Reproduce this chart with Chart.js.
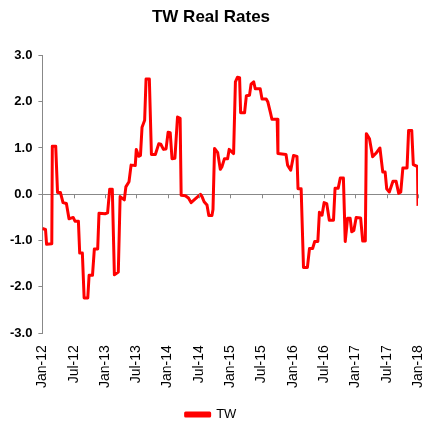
<!DOCTYPE html>
<html>
<head>
<meta charset="utf-8">
<script src="https://cdn.jsdelivr.net/npm/chart.js@4/dist/chart.umd.min.js"></script>
<style>
  html, body { margin: 0; padding: 0; background: #fff; }
  #wrap { width: 425px; height: 422px; position: relative; }
</style>
</head>
<body>
<div id="wrap"><canvas id="mainChart"></canvas></div>
<script>
// months since Jan-12, and the TW real rate at that point
const months = [0, 0.6, 0.8, 1.8, 1.9, 2.55, 2.9, 3.45, 3.95, 4.6, 5.1, 5.9, 6.25, 6.9, 7.15, 7.66, 8.0, 8.7, 8.95, 9.6,
  9.96, 10.6, 10.85, 12.0, 12.5, 12.9, 13.4, 13.8, 14.55, 14.9, 15.7, 16.0, 16.6, 17.0, 17.8, 18.0, 18.45, 18.8, 19.1, 19.6,
  19.87, 20.5, 20.9, 21.65, 22.3, 22.7, 23.2, 23.7, 24.1, 24.5, 24.85, 25.4, 25.9, 26.4, 26.6, 27.4, 28.0, 28.5, 29.3, 30.3,
  30.6, 31.0, 31.55, 31.9, 32.5, 32.7, 33.0, 33.6, 34.1, 34.4, 34.9, 35.5, 35.8, 36.65, 37.0, 37.4, 37.8, 38.0, 38.75, 39.1,
  39.7, 40.0, 40.5, 40.8, 41.75, 42.1, 42.9, 43.2, 43.7, 44.0, 45.0, 45.15, 46.7, 47.0, 47.6, 48.15, 48.8, 49.0, 49.6, 50.05,
  50.8, 51.2, 51.8, 52.2, 52.8, 53.1, 53.6, 54.0, 54.5, 55.0, 55.8, 56.1, 56.7, 57.1, 57.7, 58.05, 58.5, 59.0, 59.3, 59.7,
  60.15, 61.0, 61.4, 61.9, 62.1, 62.7, 63.3, 63.9, 64.7, 65.25, 65.7, 66.0, 66.5, 67.2, 67.8, 68.3, 68.7, 69.1, 69.9, 70.2,
  70.8, 71.1, 71.9, 72.0];
const twRates = [-0.74, -0.76, -1.08, -1.07, 1.04, 1.04, 0.04, 0.04, -0.18, -0.2, -0.53, -0.5, -0.58, -0.58, -1.27, -1.27, -2.24, -2.24, -1.75, -1.75,
  -1.18, -1.18, -0.41, -0.42, -0.4, 0.11, 0.11, -1.74, -1.68, -0.05, -0.12, 0.16, 0.27, 0.63, 0.62, 0.97, 0.82, 0.84, 1.45, 1.6,
  2.49, 2.49, 0.86, 0.86, 1.09, 1.08, 0.97, 0.98, 1.34, 1.33, 0.77, 0.78, 1.67, 1.64, -0.02, -0.03, -0.08, -0.18, -0.1, 0.0,
  -0.05, -0.16, -0.23, -0.46, -0.46, -0.33, 0.99, 0.9, 0.54, 0.59, 0.77, 0.77, 0.97, 0.88, 2.43, 2.53, 2.52, 1.76, 1.76, 2.13,
  2.14, 2.38, 2.43, 2.28, 2.28, 2.06, 2.06, 2.0, 1.77, 1.62, 1.62, 0.88, 0.86, 0.63, 0.52, 0.84, 0.82, 0.12, 0.12, -1.58,
  -1.58, -1.17, -1.17, -1.02, -1.02, -0.39, -0.45, -0.18, -0.2, -0.56, -0.56, 0.13, 0.13, 0.35, 0.35, -1.02, -0.52, -0.52, -0.81, -0.78,
  -0.5, -0.51, -1.01, -1.01, 1.31, 1.2, 0.81, 0.88, 1.0, 0.48, 0.48, 0.12, 0.05, 0.28, 0.28, 0.02, 0.05, 0.57, 0.57, 1.38,
  1.38, 0.64, 0.6, -0.25];
const tickLabels = ['Jan-12', 'Jul-12', 'Jan-13', 'Jul-13', 'Jan-14', 'Jul-14', 'Jan-15', 'Jul-15', 'Jan-16', 'Jul-16', 'Jan-17', 'Jul-17', 'Jan-18'];

const FONT = "'Liberation Sans Narrow', 'Liberation Sans', sans-serif";

// small tick marks hanging from the zero line, like the excel axis
const zeroTicks = {
  id: 'zeroTicks',
  afterDatasetsDraw(chart) {
    const { ctx, scales: { x, y } } = chart;
    const y0 = y.getPixelForValue(0);
    ctx.save();
    ctx.strokeStyle = '#888';
    ctx.lineWidth = 1;
    x.ticks.forEach(t => {
      const px = Math.round(x.getPixelForValue(t.value)) + 0.5;
      ctx.beginPath();
      ctx.moveTo(px, y0);
      ctx.lineTo(px, y0 + 4);
      ctx.stroke();
    });
    ctx.restore();
  }
};

const ctx = document.getElementById('mainChart').getContext('2d');
new Chart(ctx, {
  type: 'line',
  data: {
    datasets: [{
      label: 'TW',
      data: months.map((m, i) => ({ x: m, y: twRates[i] })),
      borderColor: '#ff0000',
      backgroundColor: '#ff0000',
      borderWidth: 3,
      pointRadius: 0,
      tension: 0,
      borderJoinStyle: 'round',
      fill: false
    }]
  },
  options: {
    responsive: true,
    maintainAspectRatio: false,
    animation: false,
    layout: { padding: { left: 4, right: 7, top: 0, bottom: -9 } },
    plugins: {
      title: {
        display: true,
        text: 'TW Real Rates',
        color: '#000',
        font: { family: FONT, size: 17, weight: 'bold' },
        padding: { top: 7, bottom: 28 }
      },
      legend: {
        position: 'bottom',
        labels: {
          color: '#000',
          font: { family: FONT, size: 13 },
          boxWidth: 24,
          boxHeight: 3,
          padding: 16
        }
      },
      tooltip: { enabled: false }
    },
    scales: {
      x: {
        type: 'linear',
        min: 0,
        max: 72,
        afterFit: s => { s.paddingRight = 0; },
        ticks: {
          stepSize: 6,
          maxRotation: 90,
          minRotation: 90,
          color: '#000',
          font: { family: FONT, size: 14 },
          padding: 4,
          callback: v => tickLabels[Math.round(v / 6)]
        },
        grid: { display: false },
        border: { display: false }
      },
      y: {
        min: -3,
        max: 3,
        ticks: {
          stepSize: 1,
          color: '#000',
          font: { family: FONT, size: 13, weight: 'bold' },
          padding: 6,
          callback: v => v.toFixed(1)
        },
        grid: {
          color: c => (c.tick && c.tick.value === 0 ? '#888' : 'transparent'),
          tickColor: '#888',
          tickLength: 4
        },
        border: { display: true, color: '#888' }
      }
    }
  },
  plugins: [zeroTicks]
});
</script>
</body>
</html>
